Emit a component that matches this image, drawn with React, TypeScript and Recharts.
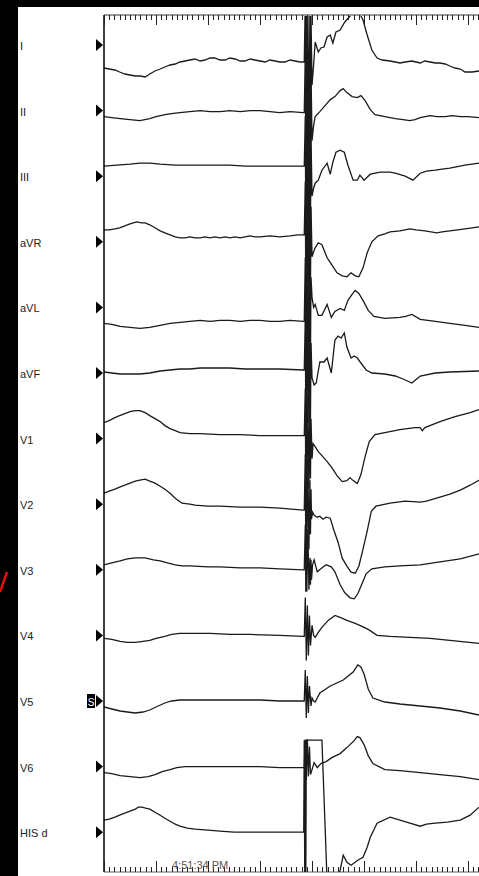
import { Line, LineChart, ReferenceLine, XAxis, YAxis } from "recharts";

// sweep time in ms, deflection in px-equivalents relative to each lead's marker
const LEADS = ["I", "II", "III", "aVR", "aVL", "aVF", "V1", "V2", "V3", "V4", "V5", "V6", "HIS d"];

const LEAD_I: [number, number][] = [
  [0, -23], [10, -24], [21, -25], [30, -27], [40, -29], [50, -30], [60, -31], [70, -31], [79, -32], [88, -29],
  [98, -26], [108, -24], [117, -22], [127, -20], [137, -19], [146, -17], [156, -16], [165, -15], [175, -14], [185, -16],
  [194, -15], [204, -13], [213, -13], [223, -15], [233, -15], [242, -13], [252, -14], [262, -16], [271, -16], [281, -14],
  [290, -15], [300, -16], [310, -17], [319, -15], [329, -16], [338, -17], [348, -17], [358, -15], [367, -16], [377, -17], [383, -17],
  [385, -17], [387, 45], [388, -95], [389, 45], [390, -95], [392, 40], [394, -90], [396, 40], [397, -80], [398, 30], [400, -40], [403, -20],
  [406, 3], [412, -7], [417, -3], [423, -2], [429, 8], [435, 10], [440, 2], [446, 13], [454, 15], [463, 23],
  [473, 29], [483, 31], [492, 31], [498, 25], [506, 10], [515, -5], [525, -13], [535, -15], [550, -16], [560, -17],
  [569, -18], [579, -17], [592, -16], [600, -17], [608, -18], [617, -16], [627, -17], [637, -18], [646, -18], [656, -19],
  [665, -21], [675, -23], [685, -24], [694, -27], [708, -27], [721, -26],
];

const LEAD_II: [number, number][] = [
  [0, -6], [15, -7], [31, -8], [50, -9], [69, -10], [88, -8], [100, -6], [117, -4], [130, -3], [146, -2],
  [165, -1], [185, 0], [204, -1], [223, -1], [242, 0], [262, -1], [281, 0], [300, 0], [319, -1], [338, -2], [358, -1], [383, -2],
  [385, -2], [387, 55], [388, -60], [389, 55], [390, -60], [392, 50], [394, -55], [396, 50], [397, -55], [398, 40], [400, -30], [403, -15],
  [406, -6], [415, -1], [425, 5], [435, 11], [444, 14], [454, 20], [460, 22], [467, 18], [477, 14], [487, 13],
  [494, 15], [502, 10], [512, 1], [521, -4], [540, -6], [560, -8], [575, -9], [588, -10], [598, -9], [608, -7],
  [627, -5], [640, -6], [656, -6], [670, -5], [685, -6], [700, -6], [721, -7],
];

const LEAD_III: [number, number][] = [
  [0, 10], [25, 11], [50, 12], [69, 13], [88, 13], [108, 12], [137, 11], [165, 11], [185, 11], [213, 11],
  [242, 11], [271, 10], [300, 10], [338, 10], [383, 10],
  [385, 10], [387, 60], [388, -55], [389, 60], [390, -55], [392, 55], [394, -55], [396, 50], [397, -50], [398, 40], [400, -20], [403, -12],
  [406, -7], [412, -4], [419, 6], [429, 13], [435, 2], [440, 14], [446, 24], [454, 26], [462, 24], [469, 11],
  [479, -4], [487, -4], [492, 1], [500, -4], [512, 2], [531, 4], [550, 4], [560, 3], [579, 0], [594, -4],
  [608, 3], [620, 5], [637, 6], [650, 7], [665, 8], [694, 11], [721, 13],
];

const LEAD_AVR: [number, number][] = [
  [0, 12], [10, 12], [21, 13], [30, 14], [40, 16], [50, 18], [63, 20], [72, 19], [79, 19], [88, 17],
  [98, 14], [108, 11], [117, 9], [127, 7], [137, 5], [146, 4], [156, 4], [165, 5], [175, 4], [185, 4],
  [194, 5], [204, 4], [213, 5], [223, 4], [233, 5], [242, 4], [252, 5], [262, 4], [271, 5], [281, 6],
  [290, 5], [300, 5], [319, 6], [338, 5], [358, 6], [372, 7], [383, 7],
  [385, 7], [387, 60], [388, -55], [389, 60], [390, -55], [392, 50], [394, -55], [396, 50], [397, -45], [398, 35], [400, -15], [403, -10],
  [406, -6], [412, -1], [419, -3], [429, -16], [438, -23], [448, -31], [458, -34], [467, -35], [475, -31], [483, -34],
  [490, -35], [498, -26], [506, -11], [515, 0], [527, 6], [540, 8], [550, 10], [569, 11], [588, 13], [600, 12],
  [617, 11], [640, 9], [650, 10], [665, 11], [680, 12], [694, 13], [708, 14], [721, 15],
];

const LEAD_AVL: [number, number][] = [
  [0, -16], [15, -17], [31, -19], [50, -20], [69, -21], [88, -20], [108, -18], [127, -16], [146, -15], [165, -14],
  [185, -13], [204, -14], [223, -13], [242, -13], [262, -14], [281, -13], [300, -13], [319, -14], [338, -14], [358, -13], [383, -14],
  [385, -14], [387, 50], [388, -60], [389, 50], [390, -60], [392, 50], [394, -55], [396, 45], [397, -50], [398, 30], [400, 10], [403, 0],
  [406, 3], [412, -8], [419, -8], [429, 3], [437, -10], [444, -4], [454, -1], [462, -3], [469, 7], [477, 13],
  [483, 17], [490, 14], [498, 7], [508, -3], [519, -9], [540, -11], [569, -10], [580, -9], [592, -7], [608, -12],
  [637, -14], [665, -16], [694, -18], [721, -20],
];

const LEAD_AVF: [number, number][] = [
  [0, 1], [15, 0], [31, -1], [50, -1], [69, -1], [88, 0], [108, 2], [127, 3], [146, 4], [165, 4],
  [185, 5], [213, 5], [242, 5], [271, 4], [300, 4], [338, 4], [383, 3],
  [385, 3], [387, 55], [388, -55], [389, 55], [390, -55], [392, 50], [394, -50], [396, 45], [397, -45], [398, 30], [400, -5], [404, -12],
  [408, -10], [415, 11], [423, 11], [429, 15], [437, 0], [444, 33], [450, 37], [456, 35], [462, 40], [467, 26],
  [475, 15], [481, 17], [487, 15], [494, 10], [504, 3], [515, 0], [540, -1], [560, -3], [575, -6], [592, -10],
  [608, -3], [637, 0], [665, 1], [721, 2],
];

const LEAD_V1: [number, number][] = [
  [0, 16], [10, 18], [21, 21], [30, 23], [40, 25], [50, 27], [60, 28], [69, 28], [79, 26], [88, 23],
  [98, 20], [108, 17], [117, 13], [127, 10], [137, 8], [146, 6], [165, 5], [185, 5], [223, 4], [262, 4],
  [300, 3], [338, 3], [383, 3],
  [385, 3], [387, 50], [388, -55], [389, 50], [390, -55], [392, 45], [394, -50], [396, 36], [397, -40], [398, 20], [400, -20], [402, -5],
  [406, -8], [412, -13], [419, -17], [429, -23], [438, -29], [448, -37], [458, -43], [467, -42], [473, -39], [479, -42],
  [487, -45], [494, -36], [502, -18], [510, -3], [521, 4], [540, 6], [569, 9], [598, 11], [608, 11], [612, 8],
  [617, 11], [646, 17], [675, 22], [704, 26], [721, 29],
];

const LEAD_V2: [number, number][] = [
  [0, 11], [10, 13], [21, 15], [30, 17], [40, 19], [50, 21], [60, 23], [69, 24], [79, 25], [88, 23],
  [98, 21], [108, 18], [117, 15], [127, 11], [137, 6], [150, 1], [165, 0], [175, -1], [200, -2], [223, -2],
  [262, -3], [300, -3], [338, -4], [383, -6],
  [385, -6], [387, 50], [388, -55], [389, 50], [390, -55], [392, 45], [394, -45], [396, 24], [397, -30], [398, 15], [399, -15], [401, -8],
  [404, -11], [410, -13], [415, -12], [421, -15], [427, -13], [435, -14], [442, -26], [450, -38], [458, -54], [467, -62],
  [475, -68], [483, -69], [490, -62], [498, -45], [506, -27], [514, -7], [523, -2], [550, 1], [579, 3], [608, 2],
  [620, 3], [646, 7], [665, 10], [685, 14], [704, 19], [721, 24],
];

const LEAD_V3: [number, number][] = [
  [0, 5], [15, 7], [31, 9], [45, 11], [60, 12], [79, 12], [95, 10], [108, 9], [122, 7], [137, 5],
  [150, 4], [165, 4], [200, 3], [223, 3], [262, 2], [300, 2], [338, 1], [383, 0],
  [385, 0], [387, 45], [388, -22], [389, 45], [390, -22], [392, 40], [394, -20], [396, 12], [397, -15], [398, 10], [399, -10], [401, 5],
  [404, 10], [410, -2], [417, 1], [427, 5], [437, 3], [444, -2], [454, -15], [463, -23], [473, -28], [481, -29],
  [488, -24], [496, -14], [504, -4], [515, 1], [540, 3], [569, 4], [608, 5], [646, 8], [685, 11], [721, 16],
];

const LEAD_V4: [number, number][] = [
  [0, -3], [15, -4], [31, -6], [45, -7], [60, -7], [75, -6], [88, -5], [100, -3], [117, -1], [130, 1],
  [146, 2], [175, 2], [204, 2], [242, 1], [281, 1], [338, 0], [383, -1],
  [385, -1], [387, 38], [389, -25], [391, 30], [393, -20], [395, 20], [397, -10], [400, 10], [403, 0],
  [406, -2], [412, 3], [419, 8], [431, 15], [444, 20], [454, 18], [467, 15], [483, 12], [496, 9], [508, 6],
  [525, 0], [550, -1], [588, -2], [627, -3], [665, -5], [721, -8],
];

const LEAD_V5: [number, number][] = [
  [0, -6], [15, -8], [31, -10], [45, -11], [60, -12], [75, -11], [88, -9], [100, -6], [117, -2], [130, 0],
  [146, 1], [185, 1], [223, 1], [262, 1], [300, 1], [338, 0], [383, 0],
  [385, 0], [387, 31], [389, -17], [391, 25], [393, -12], [395, 15], [398, -5], [400, 3],
  [403, 0], [406, -1], [415, 8], [435, 15], [460, 21], [479, 29], [488, 36], [494, 34], [500, 27], [508, 12],
  [517, 3], [540, -1], [569, -3], [608, -5], [646, -7], [685, -10], [721, -14],
];

const LEAD_V6: [number, number][] = [
  [0, -6], [15, -7], [31, -9], [50, -10], [69, -11], [85, -10], [98, -8], [112, -5], [127, -3], [140, -1],
  [156, 0], [185, 0], [223, 0], [262, 0], [300, 0], [338, -1], [383, -1],
  [385, -1], [387, 27], [389, -13], [391, 27], [393, -10], [395, 20], [397, -8], [400, -3],
  [404, 4], [410, -1], [417, 3], [427, 5], [438, 9], [454, 13], [467, 19], [481, 26], [487, 30], [492, 29],
  [500, 22], [508, 11], [517, 3], [540, -3], [569, -4], [608, -6], [646, -8], [685, -10], [721, -13],
];

const LEAD_HIS: [number, number][] = [
  [0, 12], [10, 13], [21, 15], [30, 17], [40, 19], [50, 21], [60, 23], [66, 25], [73, 25], [80, 24],
  [88, 23], [98, 20], [108, 17], [117, 14], [127, 11], [137, 8], [146, 6], [160, 4], [175, 3], [200, 2],
  [223, 1], [250, 0], [281, 0], [300, 0], [338, 0], [383, 0],
  [384, 0], [385, 92], [386, -50], [387, 92], [388, -50], [389, 92], [419, 92], [429, -50], [448, -50],
  [454, -38], [460, -23], [467, -30], [475, -33], [488, -28], [498, -25], [506, -15], [512, -5], [525, 9], [550, 15],
  [569, 12], [588, 9], [608, 6], [620, 8], [637, 9], [660, 10], [685, 12], [704, 17], [721, 25],
];

const TRACES = [
  LEAD_I, LEAD_II, LEAD_III, LEAD_AVR, LEAD_AVL, LEAD_AVF,
  LEAD_V1, LEAD_V2, LEAD_V3, LEAD_V4, LEAD_V5, LEAD_V6, LEAD_HIS,
];

const SWEEP_MS = 721;
const RULER_TICKS = Array.from({ length: 73 }, (_, i) => i * 10);
const TIMESTAMP = "4:51:34 PM";

const W = 479;
const H = 876;
const TOP = 15;
const BOTTOM = 872;
const LEFT = 104;
const PANEL_LEFT = 18;
const ROW0 = 45;
const ROW_STEP = 65.6;
const Y_MIN = -(BOTTOM - TOP);
const FONT = "'Liberation Sans', Arial, sans-serif";
const INK = "#1a1a1a";

const rowBase = (i: number) => -(ROW0 + i * ROW_STEP - TOP);
const LEAD_TICKS = LEADS.map((_, i) => rowBase(i));

function RulerTick({ x, payload }: any) {
  const major = payload.value % 100 === 0;
  const px = Math.round(x) + 0.5;
  return (
    <g stroke="#222" strokeWidth={1}>
      <line x1={px} x2={px} y1={TOP} y2={TOP + (major ? 10 : 5)} />
      <line x1={px} x2={px} y1={BOTTOM} y2={BOTTOM - (major ? 11 : 5)} />
    </g>
  );
}

function LeadTick({ y, payload }: any) {
  const idx = Math.round((-payload.value - (ROW0 - TOP)) / ROW_STEP);
  const name = LEADS[idx];
  return (
    <g>
      <text x={20} y={y + 1} dominantBaseline="central" textAnchor="start" fontSize={11} fontFamily={FONT} fill="#222">
        {name}
      </text>
      <path d={`M96 ${y - 6} L103 ${y} L96 ${y + 6} Z`} fill="#000" />
      {name === "V5" && (
        <g>
          <rect x={87} y={y - 7} width={8} height={14} fill="#000" />
          <text x={91} y={y + 1} textAnchor="middle" dominantBaseline="central" fontSize={10} fontFamily={FONT} fill="#fff">
            S
          </text>
        </g>
      )}
    </g>
  );
}

export default function App() {
  return (
    <div style={{ position: "absolute", left: 0, top: 0, width: W, height: H, background: "#000", overflow: "hidden" }}>
      <div style={{ position: "absolute", left: PANEL_LEFT, top: 7, width: W - PANEL_LEFT, height: H - 7, background: "#fff" }} />
      <svg style={{ position: "absolute", left: 0, top: 0 }} width={PANEL_LEFT} height={H}>
        <path d="M7 572 L0 592" stroke="#e01010" strokeWidth={2.5} fill="none" />
      </svg>
      <div style={{ position: "absolute", left: 0, top: 0 }}>
        <LineChart width={W} height={H} margin={{ top: 0, right: 0, bottom: H - BOTTOM, left: PANEL_LEFT }}>
          <XAxis
            type="number"
            dataKey="t"
            domain={[0, SWEEP_MS]}
            allowDataOverflow
            orientation="top"
            height={TOP}
            ticks={RULER_TICKS}
            interval={0}
            tick={<RulerTick />}
            tickLine={false}
            axisLine={{ stroke: "#999", strokeWidth: 2 }}
          />
          <YAxis
            type="number"
            domain={[Y_MIN, 0]}
            allowDataOverflow
            width={LEFT - PANEL_LEFT}
            ticks={LEAD_TICKS}
            interval={0}
            tick={<LeadTick />}
            tickLine={false}
            axisLine={{ stroke: "#000", strokeWidth: 1.5 }}
          />
          <ReferenceLine y={Y_MIN} stroke="#999" strokeWidth={1.5} />
          {TRACES.map((pts, i) => (
            <Line
              key={LEADS[i]}
              data={pts.map(([t, d]) => ({ t, v: rowBase(i) + d }))}
              dataKey="v"
              type="linear"
              stroke={INK}
              strokeWidth={1.3}
              dot={false}
              activeDot={false}
              isAnimationActive={false}
            />
          ))}
        </LineChart>
      </div>
      <div
        style={{
          position: "absolute",
          left: 172,
          top: 860,
          fontFamily: FONT,
          fontSize: 11,
          lineHeight: "11px",
          color: "#555",
        }}
      >
        {TIMESTAMP}
      </div>
    </div>
  );
}
